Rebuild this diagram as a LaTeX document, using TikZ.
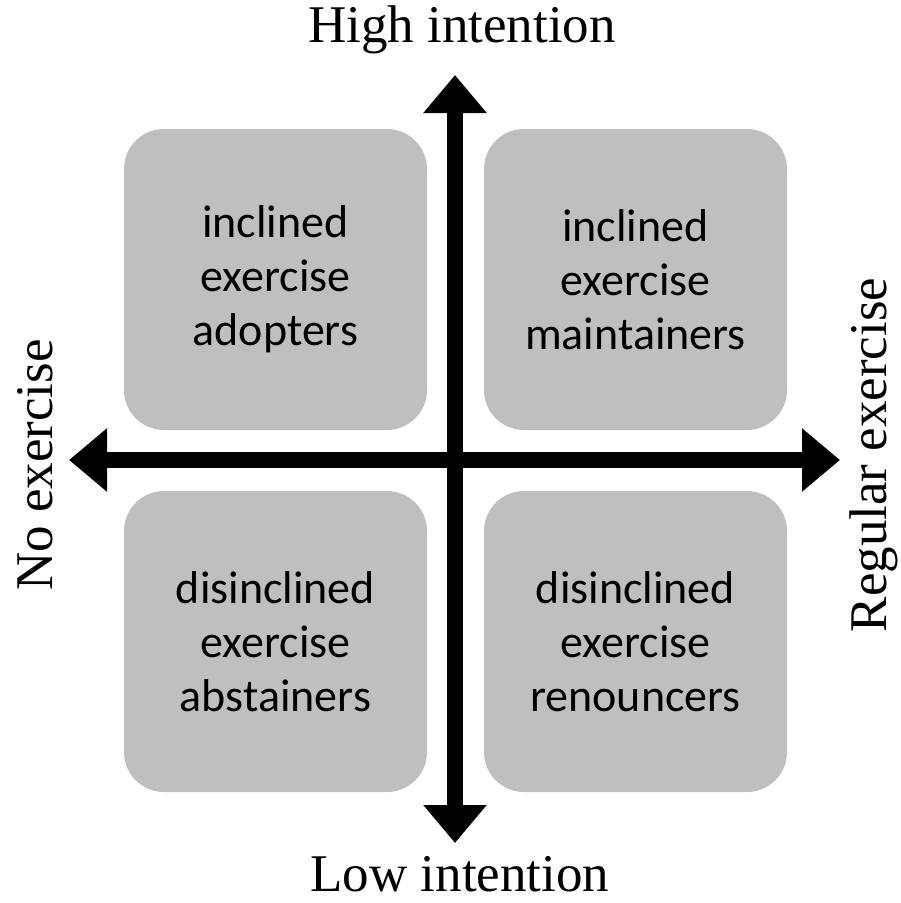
\documentclass[tikz,border=0pt]{standalone}
\usepackage{fontspec}
\setmainfont{Liberation Serif}
\newfontfamily\boxfont{Carlito}
\usetikzlibrary{arrows.meta}
\definecolor{boxgray}{HTML}{BFBFBF}
\tikzset{
  quad/.style={fill=boxgray, draw=none, rounded corners=40pt, minimum width=303pt, minimum height=301pt, inner sep=0pt, align=center, font=\boxfont\fontsize{46}{54}\selectfont},
  axis/.style={line width=16pt, black, -{Triangle[length=38pt, width=61pt]}},
  axislabel/.style={font=\fontsize{53}{60}\selectfont, inner sep=0pt}
}
\begin{document}
\begin{tikzpicture}[x=1pt, y=-1pt]
\useasboundingbox (0,0) rectangle (901,903);
\node[quad] (tl) at (275.5,279.5) {inclined\\exercise\\adopters};
\node[quad] (tr) at (635.5,279.5) {inclined\\exercise\\maintainers};
\node[quad] (bl) at (275.5,641.5) {disinclined\\exercise\\abstainers};
\node[quad] (br) at (635.5,641.5) {disinclined\\exercise\\renouncers};
\coordinate (vtop) at (455,75);
\coordinate (vbot) at (455,843);
\coordinate (hleft) at (69,460);
\coordinate (hright) at (840,460);
\coordinate (center) at (455,460);
\draw[axis] (center) -- (vtop);
\draw[axis] (center) -- (vbot);
\draw[axis] (center) -- (hleft);
\draw[axis] (center) -- (hright);
\node[axislabel] (high) at (462,30) {High intention};
\node[axislabel] (low) at (460,874) {Low intention};
\node[axislabel, rotate=90] (no) at (35,465) {No exercise};
\node[axislabel, rotate=90] (reg) at (874,455) {Regular exercise};
\end{tikzpicture}
\end{document}
